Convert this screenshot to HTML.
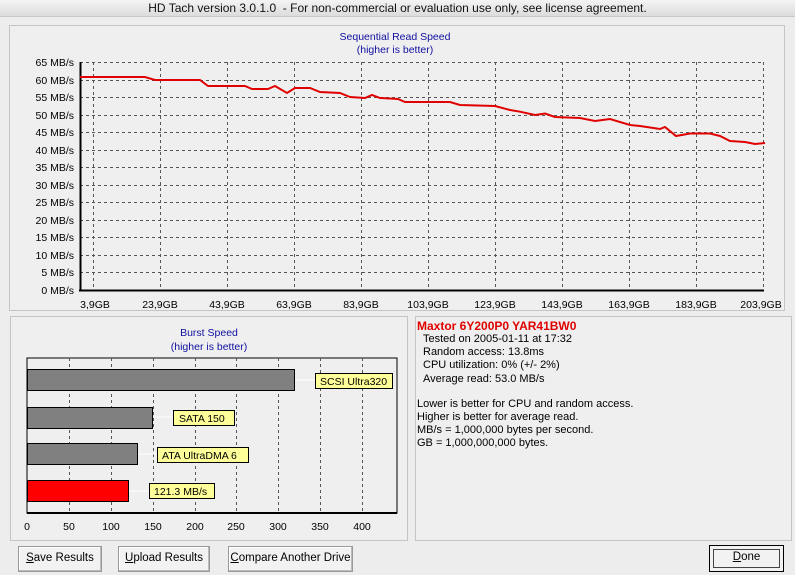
<!DOCTYPE html>
<html><head><style>
html,body{margin:0;width:795px;height:575px;overflow:hidden}
body{background:#ededed;font-family:"Liberation Sans",sans-serif;position:relative}
.t{position:absolute;white-space:nowrap}
.btn{position:absolute;border:1px solid #999;background:#f2f2f2;box-shadow:inset -1px -1px #bbb,inset 1px 1px #fff;font-size:11.5px;text-align:center;line-height:23px;color:#000;white-space:nowrap;overflow:hidden}
</style></head><body>
<div style="position:absolute;left:0;top:0;width:795px;height:16px;background:linear-gradient(#f4f4f4,#dcdcdc);border-bottom:1px solid #c8c8c8"></div>
<div class="t" style="left:0;width:795px;text-align:center;top:1px;font-size:12px;color:#111">HD Tach version 3.0.1.0&nbsp; - For non-commercial or evaluation use only, see license agreement.</div>
<svg width="795" height="575" style="position:absolute;left:0;top:0" font-family="Liberation Sans, sans-serif">
<rect x="9.5" y="25.5" width="775" height="285" fill="#efefef" stroke="#c4c4c4"/>
<rect x="10.5" y="316.5" width="397" height="224" fill="#efefef" stroke="#c4c4c4"/>
<rect x="415.5" y="316.5" width="376" height="224" fill="#efefef" stroke="#c4c4c4"/>
<text x="395" y="40" font-size="10.5" fill="#1010a0" text-anchor="middle">Sequential Read Speed</text>
<text x="395" y="53" font-size="10.5" fill="#1010a0" text-anchor="middle">(higher is better)</text>
<g stroke="#555" stroke-dasharray="3,3" stroke-width="1">
<line x1="80" y1="62.5" x2="764" y2="62.5"/><line x1="80" y1="80.5" x2="764" y2="80.5"/><line x1="80" y1="97.5" x2="764" y2="97.5"/><line x1="80" y1="115.5" x2="764" y2="115.5"/><line x1="80" y1="132.5" x2="764" y2="132.5"/><line x1="80" y1="150.5" x2="764" y2="150.5"/><line x1="80" y1="167.5" x2="764" y2="167.5"/><line x1="80" y1="185.5" x2="764" y2="185.5"/><line x1="80" y1="202.5" x2="764" y2="202.5"/><line x1="80" y1="220.5" x2="764" y2="220.5"/><line x1="80" y1="237.5" x2="764" y2="237.5"/><line x1="80" y1="255.5" x2="764" y2="255.5"/><line x1="80" y1="272.5" x2="764" y2="272.5"/>
<line x1="93.5" y1="62" x2="93.5" y2="290"/><line x1="160.5" y1="62" x2="160.5" y2="290"/><line x1="227.5" y1="62" x2="227.5" y2="290"/><line x1="294.5" y1="62" x2="294.5" y2="290"/><line x1="361.5" y1="62" x2="361.5" y2="290"/><line x1="428.5" y1="62" x2="428.5" y2="290"/><line x1="495.5" y1="62" x2="495.5" y2="290"/><line x1="562.5" y1="62" x2="562.5" y2="290"/><line x1="629.5" y1="62" x2="629.5" y2="290"/><line x1="696.5" y1="62" x2="696.5" y2="290"/><line x1="763.5" y1="62" x2="763.5" y2="290"/>
</g>
<line x1="80.5" y1="62" x2="80.5" y2="291" stroke="#000" stroke-width="2"/>
<line x1="79" y1="290.5" x2="764" y2="290.5" stroke="#000" stroke-width="2"/>
<g font-size="10.5" fill="#000" text-anchor="end">
<text x="74" y="66">65 MB/s</text><text x="74" y="84">60 MB/s</text><text x="74" y="101">55 MB/s</text><text x="74" y="119">50 MB/s</text><text x="74" y="136">45 MB/s</text><text x="74" y="154">40 MB/s</text><text x="74" y="171">35 MB/s</text><text x="74" y="189">30 MB/s</text><text x="74" y="206">25 MB/s</text><text x="74" y="224">20 MB/s</text><text x="74" y="241">15 MB/s</text><text x="74" y="259">10 MB/s</text><text x="74" y="276">5 MB/s</text><text x="74" y="294">0 MB/s</text>
</g>
<g font-size="10.5" fill="#000" text-anchor="middle">
<text x="95" y="308">3,9GB</text><text x="160" y="308">23,9GB</text><text x="227" y="308">43,9GB</text><text x="294" y="308">63,9GB</text><text x="361" y="308">83,9GB</text><text x="428" y="308">103,9GB</text><text x="495" y="308">123,9GB</text><text x="562" y="308">143,9GB</text><text x="629" y="308">163,9GB</text><text x="696" y="308">183,9GB</text><text x="761" y="308">203,9GB</text>
</g>
<polyline fill="none" stroke="#e00000" stroke-width="2" points="80,77 145,77 155,80 170,80 200,80 208,86 245,86 252,89 268,89 275,86 287,93 295,88 310,88 320,92 340,93 350,97 365,98 372,95 380,98 398,99 405,102 450,102 460,105 495,106 510,110 520,111.7 535,115 545,113.5 555,117 580,118 595,121 610,119 630,125 640,126 660,129 665,127 676,136 690,133.5 710,133.5 720,136 730,141 745,142 755,144 765,143"/>
<text x="209" y="336" font-size="10.5" fill="#1010a0" text-anchor="middle">Burst Speed</text>
<text x="209" y="350" font-size="10.5" fill="#1010a0" text-anchor="middle">(higher is better)</text>
<rect x="27" y="358" width="370" height="155" fill="#efefef" stroke="#000"/>
<g stroke="#555" stroke-dasharray="3,3"><line x1="69.5" y1="358" x2="69.5" y2="513"/><line x1="111.5" y1="358" x2="111.5" y2="513"/><line x1="153.5" y1="358" x2="153.5" y2="513"/><line x1="195.5" y1="358" x2="195.5" y2="513"/><line x1="236.5" y1="358" x2="236.5" y2="513"/><line x1="278.5" y1="358" x2="278.5" y2="513"/><line x1="320.5" y1="358" x2="320.5" y2="513"/><line x1="362.5" y1="358" x2="362.5" y2="513"/></g>
<line x1="27" y1="513" x2="397" y2="513" stroke="#000" stroke-width="2"/>
<g stroke="#fff"><line x1="295" y1="380" x2="315" y2="380"/><line x1="152" y1="417" x2="173" y2="417"/><line x1="138" y1="454" x2="157" y2="454"/><line x1="128" y1="491" x2="149" y2="491"/></g>
<rect x="27.5" y="369.5" width="267" height="21" fill="#808080" stroke="#000"/>
<rect x="27.5" y="407.5" width="125" height="21" fill="#808080" stroke="#000"/>
<rect x="27.5" y="443.5" width="110" height="21" fill="#808080" stroke="#000"/>
<rect x="27.5" y="480.5" width="101" height="21" fill="#ff0000" stroke="#000"/>
<g font-size="10.5" fill="#000">
<rect x="315.5" y="373.5" width="77" height="15" fill="#ffff99" stroke="#000"/><text x="320" y="385">SCSI Ultra320</text>
<rect x="173.5" y="410.5" width="61" height="15" fill="#ffff99" stroke="#000"/><text x="179" y="422">SATA 150</text>
<rect x="157.5" y="447.5" width="91" height="15" fill="#ffff99" stroke="#000"/><text x="162" y="459">ATA UltraDMA 6</text>
<rect x="149.5" y="483.5" width="65" height="15" fill="#ffff99" stroke="#000"/><text x="154" y="495">121.3 MB/s</text>
</g>
<g font-size="10.5" fill="#000" text-anchor="middle">
<text x="27" y="530">0</text><text x="69" y="530">50</text><text x="111" y="530">100</text><text x="153" y="530">150</text><text x="195" y="530">200</text><text x="236" y="530">250</text><text x="278" y="530">300</text><text x="320" y="530">350</text><text x="362" y="530">400</text>
</g>
</svg>
<div class="t" style="left:417px;top:319px;font-size:12px;font-weight:bold;color:#e00000">Maxtor 6Y200P0 YAR41BW0</div>
<div class="t" style="left:423px;top:333px;font-size:11px;line-height:13.2px">Tested on 2005-01-11 at 17:32<br>Random access: 13.8ms<br>CPU utilization: 0% (+/- 2%)<br>Average read: 53.0 MB/s</div>
<div class="t" style="left:417px;top:398px;font-size:11px;line-height:13px">Lower is better for CPU and random access.<br>Higher is better for average read.<br>MB/s = 1,000,000 bytes per second.<br>GB = 1,000,000,000 bytes.</div>
<div class="btn" style="left:18px;top:546px;width:82px;height:24px"><u>S</u>ave Results</div>
<div class="btn" style="left:118px;top:546px;width:90px;height:24px"><u>U</u>pload Results</div>
<div class="btn" style="left:228px;top:546px;width:123px;height:24px"><u>C</u>ompare Another Drive</div>
<div class="btn" style="left:709px;top:545px;width:73px;height:25px;border:1px solid #000;box-shadow:inset 0 0 0 3px #f2f2f2,inset 0 0 0 4px #444"><u>D</u>one</div>
</body></html>
